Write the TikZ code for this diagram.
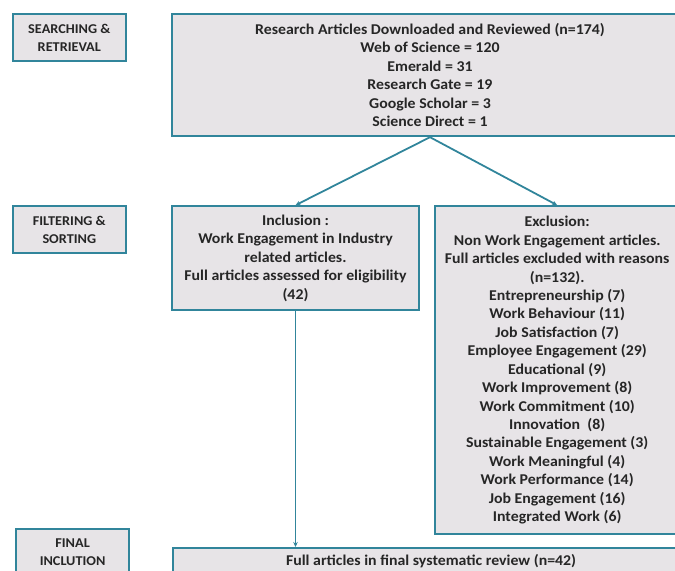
\documentclass[tikz,border=0pt]{standalone}
\usepackage{fontspec}
\setmainfont{Carlito}[FakeStretch=1.06]
\usepackage{tikz}
\usetikzlibrary{
  arrows.meta,
  positioning
}
\definecolor{prismateal}{RGB}{49,133,155}
\definecolor{prismagrey}{RGB}{231,228,231}
\tikzset{
  stagebox/.style={draw=prismateal, line width=2.2pt, fill=prismagrey,
    minimum width=113bp, minimum height=47bp, text=black!85,
    align=center, font=\fontsize{13.5}{18}\selectfont\bfseries},
  mainbox/.style={draw=prismateal, line width=2.2pt, fill=prismagrey,
    align=center, text=black!85,
    font=\fontsize{15}{18.5}\selectfont\bfseries},
  arr/.style={-{Stealth[length=5pt,width=4.5pt]}, prismateal, line width=1.8pt},
}

\begin{document}
\begin{tikzpicture}[x=1bp, y=-1bp]
  \useasboundingbox (0,0) rectangle (675,571);
  \clip (0,0) rectangle (675,571);

  % Searching & retrieval
  \node[mainbox, minimum width=516bp, minimum height=122bp,
        anchor=north] (top) at (430,13)
    {Research Articles Downloaded and Reviewed (n=174)\\
     Web of Science = 120\\
     Emerald = 31\\
     Research Gate = 19\\
     Google Scholar = 3\\
     Science Direct = 1};
  \node[stagebox, below left=0bp and 44bp of top.north west] (search)
    {SEARCHING \&\\RETRIEVAL};

  % Filtering & sorting
  \node[mainbox, minimum width=247bp, minimum height=104bp,
        below right=68bp and 0bp of top.south west] (incl)
    {Inclusion :\\
     Work Engagement in Industry\\
     related articles.\\
     Full articles assessed for eligibility\\
     (42)};
  \node[mainbox, minimum width=244bp, minimum height=328bp,
        below right=0bp and 14bp of incl.north east] (excl)
    {Exclusion:\\
     Non Work Engagement articles.\\
     Full articles excluded with reasons\\
     (n=132).\\
     Entrepreneurship (7)\\
     Work Behaviour (11)\\
     Job Satisfaction (7)\\
     Employee Engagement (29)\\
     Educational (9)\\
     Work Improvement (8)\\
     Work Commitment (10)\\
     Innovation~ (8)\\
     Sustainable Engagement (3)\\
     Work Meaningful (4)\\
     Work Performance (14)\\
     Job Engagement (16)\\
     Integrated Work (6)};
  \node[stagebox, below left=0bp and 44bp of incl.north west] (filter)
    {FILTERING \&\\SORTING};

  % Final inclusion
  \node[mainbox, minimum width=516bp, minimum height=27bp,
        anchor=north west] (final) at (172,547)
    {Full articles in final systematic review (n=42)};
  \node[stagebox, anchor=north west] (finallbl) at (15,528)
    {FINAL\\INCLUTION};

  % Arrows
  \draw[arr] (top.south) -- (incl.north);
  \draw[arr] (top.south) -- (excl.north);
  \draw[arr] (incl.south) -- (incl.south |- final.north);
\end{tikzpicture}
\end{document}
